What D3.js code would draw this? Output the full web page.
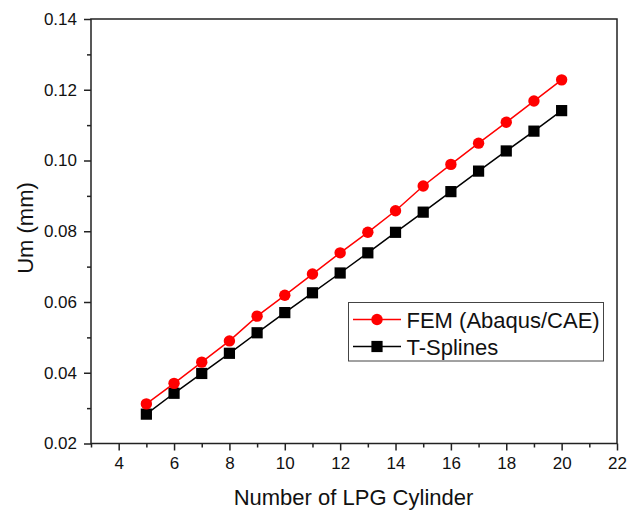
<!DOCTYPE html>
<html>
<head>
<meta charset="utf-8">
<script src="https://d3js.org/d3.v7.min.js"></script>
<style>
  html, body { margin: 0; padding: 0; background: #fff; }
  svg { display: block; font-family: "Liberation Sans", Arial, sans-serif; }
</style>
</head>
<body>
<svg id="chart" width="627" height="511"></svg>
<script>
const cylinders = [5, 6, 7, 8, 9, 10, 11, 12, 13, 14, 15, 16, 17, 18, 19, 20];
const femValues = [0.0312, 0.0370, 0.0430, 0.0490, 0.0560, 0.0619, 0.0679, 0.0739, 0.0797, 0.0858, 0.0928, 0.0989, 0.1049, 0.1108, 0.1168, 0.1228];
const tsplineValues = [0.0283, 0.0342, 0.0398, 0.0455, 0.0513, 0.0570, 0.0626, 0.0682, 0.0739, 0.0797, 0.0854, 0.0912, 0.0970, 0.1027, 0.1083, 0.1141];
const xTickLabels = [4, 6, 8, 10, 12, 14, 16, 18, 20, 22];
const xMinorTicks = [3, 5, 7, 9, 11, 13, 15, 17, 19, 21];
const yTickLabels = [0.02, 0.04, 0.06, 0.08, 0.10, 0.12, 0.14];
const yMinorTicks = [0.03, 0.05, 0.07, 0.09, 0.11, 0.13];
const seriesNames = ["FEM (Abaqus/CAE)", "T-Splines"];
const xTitle = "Number of LPG Cylinder";
const yTitle = "Um (mm)";

const svg = d3.select("#chart");
const L = 91, R = 617, T = 19, B = 443.5;
const x = d3.scaleLinear().domain([3, 22]).range([L, R]);
const y = d3.scaleLinear().domain([0.02, 0.14]).range([B, T]);
const axisColor = "#222";

// frame
svg.append("rect").attr("x", L).attr("y", T).attr("width", R - L).attr("height", B - T)
  .attr("fill", "none").attr("stroke", axisColor).attr("stroke-width", 1.5);

// x axis
const xAxis = svg.append("g").attr("transform", `translate(0,${B})`)
  .call(d3.axisBottom(x).tickValues(xTickLabels).tickSize(7).tickPadding(6).tickFormat(d3.format("d")));
xAxis.select(".domain").remove();
xAxis.selectAll(".tick line").attr("stroke", axisColor).attr("stroke-width", 1.5);
xAxis.selectAll(".tick text").attr("font-size", "17px").attr("fill", "#111").attr("font-family", "Liberation Sans, Arial, sans-serif");
const xMinor = svg.append("g").attr("transform", `translate(0,${B})`)
  .call(d3.axisBottom(x).tickValues(xMinorTicks).tickSize(4).tickFormat(""));
xMinor.select(".domain").remove();
xMinor.selectAll(".tick line").attr("stroke", axisColor).attr("stroke-width", 1.5);

// y axis
const yAxis = svg.append("g").attr("transform", `translate(${L},0)`)
  .call(d3.axisLeft(y).tickValues(yTickLabels).tickSize(7).tickPadding(7).tickFormat(d3.format(".2f")));
yAxis.select(".domain").remove();
yAxis.selectAll(".tick line").attr("stroke", axisColor).attr("stroke-width", 1.5);
yAxis.selectAll(".tick text").attr("font-size", "17px").attr("fill", "#111").attr("font-family", "Liberation Sans, Arial, sans-serif");
const yMinor = svg.append("g").attr("transform", `translate(${L},0)`)
  .call(d3.axisLeft(y).tickValues(yMinorTicks).tickSize(4).tickFormat(""));
yMinor.select(".domain").remove();
yMinor.selectAll(".tick line").attr("stroke", axisColor).attr("stroke-width", 1.5);

// titles
svg.append("text").attr("x", (L + R) / 2 - 0.5).attr("y", 505).attr("text-anchor", "middle")
  .attr("font-size", "22px").attr("fill", "#111").text(xTitle);
svg.append("text").attr("transform", `translate(33,228) rotate(-90)`).attr("text-anchor", "middle")
  .attr("font-size", "22px").attr("fill", "#111").text(yTitle);

// series
const series = [
  { name: seriesNames[0], values: femValues, color: "#ff0000", shape: "circle" },
  { name: seriesNames[1], values: tsplineValues, color: "#000000", shape: "square" }
];
const line = d3.line().x((d, i) => x(cylinders[i])).y(d => y(d));

function drawMarker(g, shape, color, cx, cy) {
  if (shape === "circle") {
    g.append("circle").attr("cx", cx).attr("cy", cy).attr("r", 5.7).attr("fill", color);
  } else {
    g.append("rect").attr("x", cx - 5.6).attr("y", cy - 5.6).attr("width", 11.2).attr("height", 11.2).attr("fill", color);
  }
}

// draw black first then red on top
[series[1], series[0]].forEach(s => {
  svg.append("path").datum(s.values).attr("d", line).attr("fill", "none")
    .attr("stroke", s.color).attr("stroke-width", 1.5);
  const g = svg.append("g");
  s.values.forEach((v, i) => drawMarker(g, s.shape, s.color, x(cylinders[i]), y(v)));
});

// legend
const lg = svg.append("g");
lg.append("rect").attr("x", 348.5).attr("y", 302.5).attr("width", 255).attr("height", 58.5)
  .attr("fill", "#fff").attr("stroke", "#444").attr("stroke-width", 1);
const rowY = [319.5, 346.5];
series.forEach((s, i) => {
  lg.append("line").attr("x1", 353).attr("x2", 401).attr("y1", rowY[i]).attr("y2", rowY[i])
    .attr("stroke", s.color).attr("stroke-width", 1.5);
  drawMarker(lg, s.shape, s.color, 377, rowY[i]);
  lg.append("text").attr("x", 406.5).attr("y", rowY[i] + 8).attr("font-size", "22px")
    .attr("fill", "#111").text(s.name);
});
</script>
</body>
</html>
